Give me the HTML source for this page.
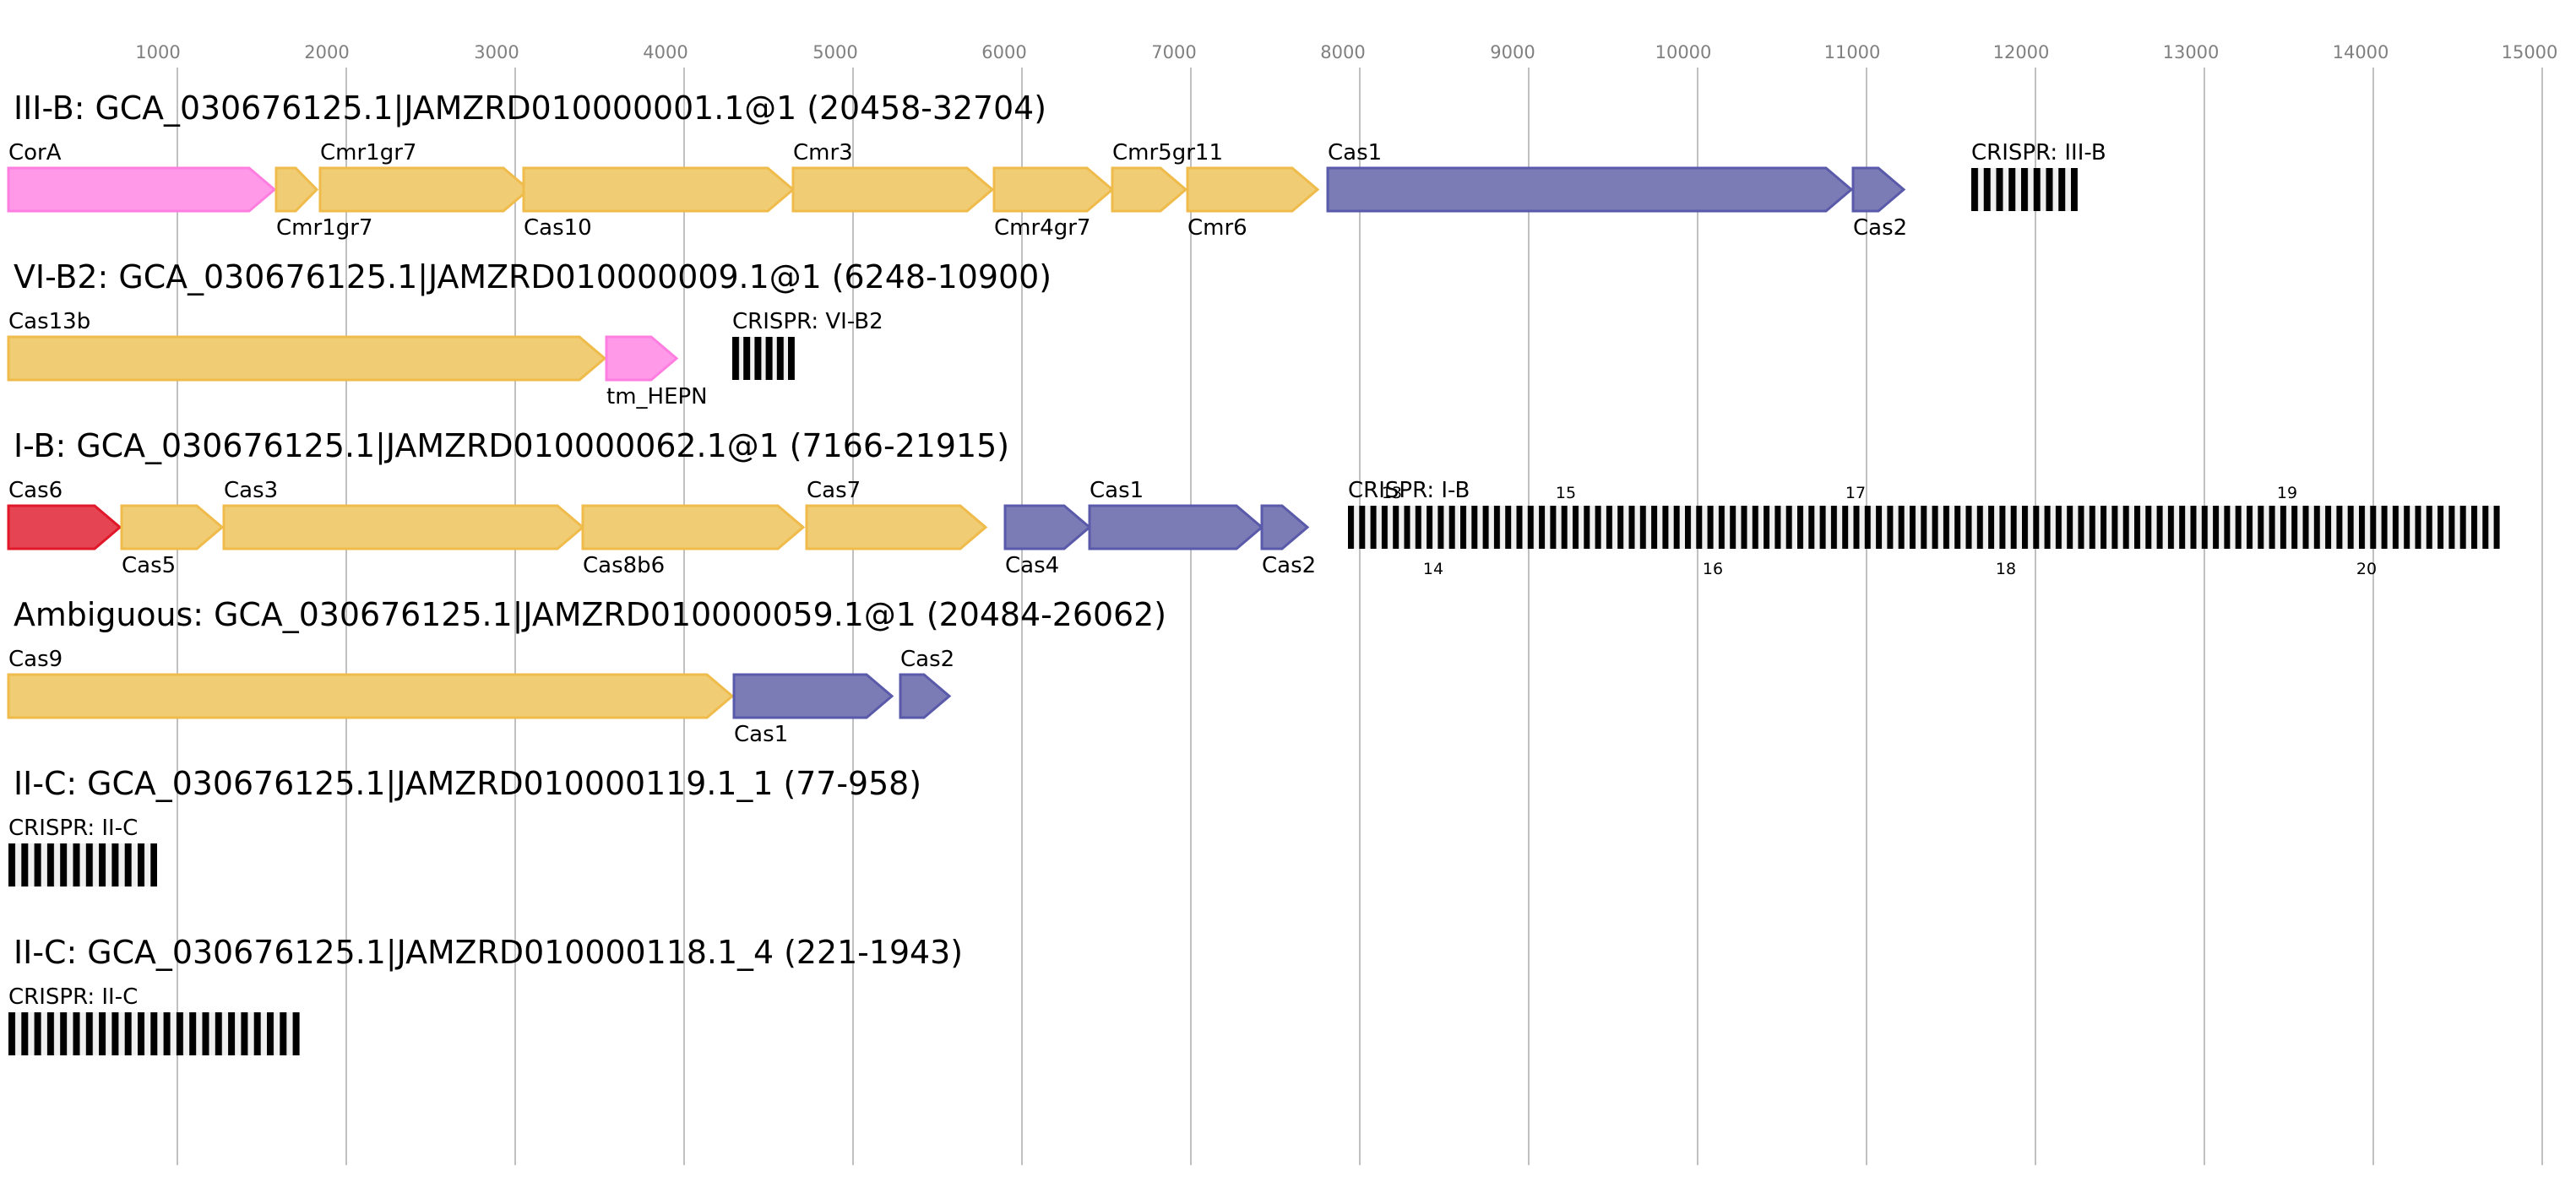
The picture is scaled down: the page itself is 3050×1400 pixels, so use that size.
<!DOCTYPE html>
<html><head><meta charset="utf-8"><style>
html,body{margin:0;padding:0;background:#fff;}
svg{display:block;font-family:"DejaVu Sans","Liberation Sans",sans-serif;}
.ax{font-size:21px;fill:#808080;text-anchor:middle}
.t{font-size:38px;fill:#000}
.l{font-size:26px;fill:#000}
.n{font-size:19px;fill:#000;text-anchor:middle}
.y{fill:#f0cc74;stroke:#efbb4b;stroke-width:3}
.b{fill:#7b7bb5;stroke:#5a5aaa;stroke-width:3}
.p{fill:#ff99e8;stroke:#ff7ee0;stroke-width:3}
.r{fill:#e54553;stroke:#e0182a;stroke-width:3}
.g{stroke:#c0c0c0;stroke-width:2}
</style></head><body>
<svg width="3050" height="1400" viewBox="0 0 3050 1400" xmlns="http://www.w3.org/2000/svg">
<defs>
<pattern id="c1" patternUnits="userSpaceOnUse" x="2334" y="0" width="14.75" height="10"><rect width="14.75" height="10" fill="#f0f0f0"/><rect width="8" height="10" fill="#000"/></pattern>
<pattern id="c2" patternUnits="userSpaceOnUse" x="867" y="0" width="13.2" height="10"><rect width="13.2" height="10" fill="#f0f0f0"/><rect width="8" height="10" fill="#000"/></pattern>
<pattern id="c3" patternUnits="userSpaceOnUse" x="1596" y="0" width="13.3" height="10"><rect width="13.3" height="10" fill="#f0f0f0"/><rect width="7" height="10" fill="#000"/></pattern>
<pattern id="c5" patternUnits="userSpaceOnUse" x="10" y="0" width="15.3" height="10"><rect width="15.3" height="10" fill="#f0f0f0"/><rect width="8" height="10" fill="#000"/></pattern>
</defs>
<g class="g">
<line x1="210" y1="80" x2="210" y2="1380"/><line x1="410" y1="80" x2="410" y2="1380"/><line x1="610" y1="80" x2="610" y2="1380"/>
<line x1="810" y1="80" x2="810" y2="1380"/><line x1="1010" y1="80" x2="1010" y2="1380"/><line x1="1210" y1="80" x2="1210" y2="1380"/>
<line x1="1410" y1="80" x2="1410" y2="1380"/><line x1="1610" y1="80" x2="1610" y2="1380"/><line x1="1810" y1="80" x2="1810" y2="1380"/>
<line x1="2010" y1="80" x2="2010" y2="1380"/><line x1="2210" y1="80" x2="2210" y2="1380"/><line x1="2410" y1="80" x2="2410" y2="1380"/>
<line x1="2610" y1="80" x2="2610" y2="1380"/><line x1="2810" y1="80" x2="2810" y2="1380"/><line x1="3010" y1="80" x2="3010" y2="1380"/>
</g>
<g class="ax">
<text x="187" y="69">1000</text><text x="387" y="69">2000</text><text x="588" y="69">3000</text><text x="788" y="69">4000</text>
<text x="989" y="69">5000</text><text x="1189" y="69">6000</text><text x="1390" y="69">7000</text><text x="1590" y="69">8000</text>
<text x="1791" y="69">9000</text><text x="1993" y="69">10000</text><text x="2193" y="69">11000</text><text x="2393" y="69">12000</text>
<text x="2594" y="69">13000</text><text x="2795" y="69">14000</text><text x="2995" y="69">15000</text>
</g>

<text class="t" x="16" y="141" textLength="1223" lengthAdjust="spacingAndGlyphs">III-B: GCA_030676125.1|JAMZRD010000001.1@1 (20458-32704)</text>
<polygon class="p" points="10,199 295,199 325,224.5 295,250 10,250"/>
<polygon class="y" points="327,199 350,199 375,224.5 350,250 327,250"/>
<polygon class="y" points="379,199 596,199 626,224.5 596,250 379,250"/>
<polygon class="y" points="620,199 909,199 939,224.5 909,250 620,250"/>
<polygon class="y" points="939,199 1145,199 1175,224.5 1145,250 939,250"/>
<polygon class="y" points="1177,199 1287,199 1317,224.5 1287,250 1177,250"/>
<polygon class="y" points="1317,199 1374,199 1404,224.5 1374,250 1317,250"/>
<polygon class="y" points="1406,199 1530,199 1560,224.5 1530,250 1406,250"/>
<polygon class="b" points="1572,199 2162,199 2192,224.5 2162,250 1572,250"/>
<polygon class="b" points="2194,199 2224,199 2254,224.5 2224,250 2194,250"/>
<rect x="2334" y="199" width="126" height="51" fill="url(#c1)"/>
<text class="l" x="10" y="189">CorA</text>
<text class="l" x="379" y="189">Cmr1gr7</text>
<text class="l" x="939" y="189">Cmr3</text>
<text class="l" x="1317" y="189">Cmr5gr11</text>
<text class="l" x="1572" y="189">Cas1</text>
<text class="l" x="2334" y="189">CRISPR: III-B</text>
<text class="l" x="327" y="278">Cmr1gr7</text>
<text class="l" x="620" y="278">Cas10</text>
<text class="l" x="1177" y="278">Cmr4gr7</text>
<text class="l" x="1406" y="278">Cmr6</text>
<text class="l" x="2194" y="278">Cas2</text>

<text class="t" x="16" y="341" textLength="1229" lengthAdjust="spacingAndGlyphs">VI-B2: GCA_030676125.1|JAMZRD010000009.1@1 (6248-10900)</text>
<polygon class="y" points="10,399 686,399 716,424.5 686,450 10,450"/>
<polygon class="p" points="718,399 771,399 801,424.5 771,450 718,450"/>
<rect x="867" y="399" width="74" height="51" fill="url(#c2)"/>
<text class="l" x="10" y="389">Cas13b</text>
<text class="l" x="867" y="389">CRISPR: VI-B2</text>
<text class="l" x="718" y="478">tm_HEPN</text>

<text class="t" x="16" y="541" textLength="1179" lengthAdjust="spacingAndGlyphs">I-B: GCA_030676125.1|JAMZRD010000062.1@1 (7166-21915)</text>
<polygon class="r" points="10,599 112,599 142,624.5 112,650 10,650"/>
<polygon class="y" points="144,599 233,599 263,624.5 233,650 144,650"/>
<polygon class="y" points="265,599 660,599 690,624.5 660,650 265,650"/>
<polygon class="y" points="690,599 921,599 951,624.5 921,650 690,650"/>
<polygon class="y" points="955,599 1137,599 1167,624.5 1137,650 955,650"/>
<polygon class="b" points="1190,599 1260,599 1290,624.5 1260,650 1190,650"/>
<polygon class="b" points="1290,599 1464,599 1494,624.5 1464,650 1290,650"/>
<polygon class="b" points="1494,599 1518,599 1548,624.5 1518,650 1494,650"/>
<rect x="1596" y="599" width="1364" height="51" fill="url(#c3)"/>
<text class="l" x="10" y="589">Cas6</text>
<text class="l" x="265" y="589">Cas3</text>
<text class="l" x="955" y="589">Cas7</text>
<text class="l" x="1290" y="589">Cas1</text>
<text class="l" x="1596" y="589">CRISPR: I-B</text>
<text class="l" x="144" y="678">Cas5</text>
<text class="l" x="690" y="678">Cas8b6</text>
<text class="l" x="1190" y="678">Cas4</text>
<text class="l" x="1494" y="678">Cas2</text>
<text class="n" x="1648" y="590">13</text><text class="n" x="1854" y="590">15</text><text class="n" x="2197" y="590">17</text><text class="n" x="2708" y="590">19</text>
<text class="n" x="1697" y="680">14</text><text class="n" x="2028" y="680">16</text><text class="n" x="2375" y="680">18</text><text class="n" x="2802" y="680">20</text>

<text class="t" x="16" y="741" textLength="1365" lengthAdjust="spacingAndGlyphs">Ambiguous: GCA_030676125.1|JAMZRD010000059.1@1 (20484-26062)</text>
<polygon class="y" points="10,799 837,799 867,824.5 837,850 10,850"/>
<polygon class="b" points="869,799 1026,799 1056,824.5 1026,850 869,850"/>
<polygon class="b" points="1066,799 1094,799 1124,824.5 1094,850 1066,850"/>
<text class="l" x="10" y="789">Cas9</text>
<text class="l" x="1066" y="789">Cas2</text>
<text class="l" x="869" y="878">Cas1</text>

<text class="t" x="16" y="941" textLength="1075" lengthAdjust="spacingAndGlyphs">II-C: GCA_030676125.1|JAMZRD010000119.1_1 (77-958)</text>
<rect x="10" y="999" width="176" height="51" fill="url(#c5)"/>
<text class="l" x="10" y="989">CRISPR: II-C</text>

<text class="t" x="16" y="1141" textLength="1124" lengthAdjust="spacingAndGlyphs">II-C: GCA_030676125.1|JAMZRD010000118.1_4 (221-1943)</text>
<rect x="10" y="1199" width="345" height="51" fill="url(#c5)"/>
<text class="l" x="10" y="1189">CRISPR: II-C</text>
</svg>
</body></html>
